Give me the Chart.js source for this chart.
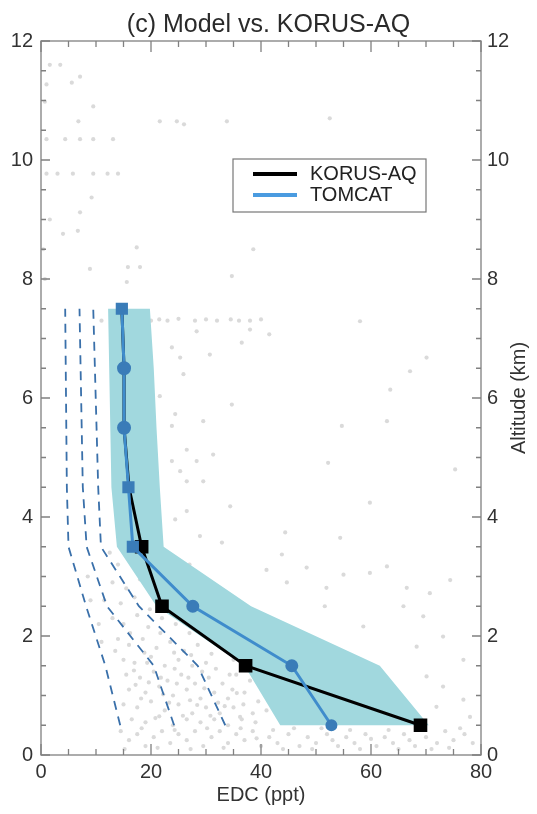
<!DOCTYPE html>
<html>
<head>
<meta charset="utf-8">
<script src="https://cdn.jsdelivr.net/npm/chart.js@4.4.1/dist/chart.umd.min.js"></script>
<style>
html, body { margin: 0; padding: 0; background: #fff; }
</style>
</head>
<body>
<canvas id="profile-chart" width="537" height="814"></canvas>
<script>
// altitude bins (km)
var altitudes = [0.5, 1.5, 2.5, 3.5, 4.5, 5.5, 6.5, 7.5];
// median EDC (ppt) per bin
var korusEdc = [69, 37.2, 22, 18.3, 16, 15.1, 15.1, 14.7];
var tomcatEdc = [52.8, 45.6, 27.6, 16.7, 15.9, 15.1, 15.1, 14.7];
// model spread (shaded area), low / high edge per bin
var bandLow = [43.5, 37, 21, 13.8, 12.8, 12.6, 12.4, 12.2];
var bandHigh = [70.5, 61.6, 38.2, 22.3, 21.6, 21, 20.5, 19.8];
// dashed model profiles
var dashA = [14.4, 11.7, 8.2, 5, 4.7, 4.6, 4.5, 4.4];
var dashB = [24.2, 20.5, 12, 8.3, 7.6, 7.4, 7.2, 7];
var dashC = [33.5, 28.5, 17.8, 10.9, 10.4, 10.1, 9.8, 9.5];
// individual observations [EDC, altitude]
var obsPoints = [
  [1.6,11.6],[3.5,11.6],[1,11.27],[5.6,11.3],[7.1,11.4],[0.7,10.98],[9.5,10.9],[6.8,10.65],
  [21.6,10.65],[24.7,10.65],[26,10.6],[33.8,10.65],[52.5,10.7],[1,10.35],[4.4,10.35],[7.1,10.35],
  [9.5,10.35],[13.1,10.35],[1,9.77],[3,9.77],[5.8,9.77],[9.5,9.77],[12.1,9.77],[14,9.77],
  [9.2,9.37],[7.1,9.12],[1.6,9],[6.7,8.81],[4,8.76],[17.4,8.53],[0.4,8.5],[38.6,8.5],
  [8.9,8.17],[15.8,8.2],[18,8.2],[0.7,8],[15.6,7.95],[34.7,8.05],
  [20,7.3],[21.5,7.32],[23,7.3],[25,7.33],[28,7.3],[30,7.32],[32,7.3],[34.5,7.32],
  [36,7.3],[38,7.3],[40,7.32],[11,7.3],[58,7.29],[28.3,7.12],[38,7.15],[41.5,7.07],
  [36.5,6.93],[23.8,6.85],[30.7,6.73],[25.3,6.68],[70.1,6.68],[67.1,6.45],[25.9,6.4],
  [63.5,6.14],[34.7,5.89],[21.6,6.03],[24.4,5.73],[29.5,5.61],[23.8,5.53],[54.7,5.53],
  [62.9,5.61],[26.5,5.13],[31.3,5.05],[52.2,4.91],[23.8,4.94],[28.3,4.94],[25.3,4.77],
  [75.3,4.8],[26.5,4.6],[29.5,4.6],[59.8,4.24],[34.4,4.18],[26.5,4.1],[24.4,3.96],
  [44.4,3.74],[28.9,3.68],[54.4,3.65],[32.9,3.57],[43.8,3.37],
  [41,3.11],[44.7,2.9],[48.3,3.15],[51.9,2.81],[55,3.03],[59.8,3.06],[62.9,3.17],
  [66.5,2.81],[70.7,2.72],[74.4,2.94],[51.6,2.5],[58.6,2.16],[65.9,2.5],[69.5,2.33],
  [73.1,1.99],[68.3,1.82],[76.8,1.6],[70.1,1.32],[73.1,1.15],[76.8,0.93],[71.9,0.81],
  [78,0.64],[35.6,1.04],[36.2,0.64],
  [12.5,3.4],[14,3.2],[16.5,3.3],[19,3.1],[21,3.3],[13,2.9],[15.5,2.8],[18,2.95],
  [20.5,2.75],[23,2.9],[25.5,3],[27,3.2],[11.5,2.6],[14.5,2.55],[17,2.65],[24,2.6],
  [26,2.45],[29,2.7],[31,2.85],[9,2.6],[10.5,2.2],[8.5,3],[11,1.9],
  [13,2.3],[15,2.2],[17.5,2.35],[19.5,2.15],[22,2.3],[24.5,2.2],[27,2.05],[29.5,2.25],
  [32,2.1],[14,1.95],[16,1.85],[18.5,1.95],[21,1.8],[23.5,1.9],[26,1.75],[28.5,1.85],
  [31,1.7],[33.5,1.9],[35,1.6],[15,1.6],[17,1.55],[20,1.65],[22.5,1.5],[25,1.6],
  [27.5,1.5],[30,1.55],[13.5,1.75],
  [15.5,1.35],[18,1.3],[20.5,1.4],[23,1.25],[25.5,1.35],[28,1.2],[30.5,1.3],[33,1.2],
  [35.5,1.35],[38,1.25],[16,1.1],[19,1.05],[21.5,1.15],[24,1],[26.5,1.1],[29,0.95],
  [31.5,1.05],[34,0.95],[37,1.05],[39.5,0.9],[15,0.85],[17.5,0.8],[20,0.9],[22.5,0.75],
  [25,0.85],[27.5,0.7],[30,0.8],[32.5,0.7],[35,0.8],[38.5,0.7],[41,0.75],[16.5,0.6],
  [19,0.55],[21.5,0.65],[24,0.5],[26.5,0.6],[29,0.55],[31.5,0.6],[34,0.5],[36.5,0.6],[39,0.55],
  [16.2,2.05],[19.8,2.45],[22.8,2.62],[18.8,1.72],[21.7,2.05],[24.2,1.72],[27.3,1.68],[30.6,1.95],
  [17.2,1.18],[19.6,1.22],[22.2,1.02],[24.7,1.2],[27.1,0.92],[29.7,1.12],[32.2,0.88],[34.8,1.1],
  [36.8,0.85],[18.2,0.95],[20.8,0.62],[23.3,0.88],[25.8,0.66],[28.4,0.84],[30.8,0.66],[33.4,0.82],
  [16.9,1.42],[19.3,1.55],[21.8,1.3],[24.3,1.45],[26.8,1.3],[29.3,1.4],[31.8,1.45],[34.3,1.35],
  [14.5,0.4],[16,0.25],[17.5,0.35],[19,0.15],[20.5,0.3],[22,0.4],[23.5,0.2],[25,0.35],
  [26.5,0.25],[28,0.4],[29.5,0.15],[31,0.3],[32.5,0.4],[34,0.2],[35.5,0.35],[37,0.25],
  [38.5,0.4],[40,0.15],[41.5,0.3],[43,0.2],[45,0.35],[47,0.15],[48.5,0.3],[50,0.2],
  [52,0.35],[54,0.15],[55.5,0.3],[57,0.2],[59,0.35],[61,0.15],[62.5,0.3],[64,0.2],
  [66,0.35],[68,0.15],[70,0.3],[72,0.2],[73.5,0.4],[75,0.25],[77,0.35],[78.5,0.2],
  [15.2,0.1],[18.3,0.45],[21.2,0.12],[24.3,0.42],[27.2,0.1],[30.2,0.45],[33.2,0.12],[36.3,0.45],
  [39.2,0.28],[42.2,0.42],[44,0.1],[46,0.45],[49.3,0.1],[51,0.45],[53,0.25],[56.2,0.42],
  [58,0.1],[60,0.27],[63.2,0.42],[65,0.1],[67,0.25],[69,0.44],[71,0.1],[74.2,0.12],[76.2,0.45]
];
var xTicks = [0, 20, 40, 60, 80];
var yTicks = [0, 2, 4, 6, 8, 10, 12];

function profile(values) {
  return values.map(function (v, i) { return {x: v, y: altitudes[i]}; });
}

// closed outline: high edge going down, low edge coming back up
var bandShape = profile(bandHigh).concat(profile(bandLow).reverse());

Chart.defaults.font.family = '"Liberation Sans", Arial, Helvetica, sans-serif';
Chart.defaults.color = '#333';

var frameAndLegend = {
  id: 'frameAndLegend',
  afterDraw: function (chart) {
    var ctx = chart.ctx, a = chart.chartArea;
    var xs = chart.scales.x, ys = chart.scales.y;
    ctx.save();
    ctx.strokeStyle = '#808080';
    ctx.lineWidth = 1.3;
    ctx.strokeRect(a.left, a.top, a.right - a.left, a.bottom - a.top);
    ctx.beginPath();
    for (var v = 0; v <= 80; v += 5) {
      var px = xs.getPixelForValue(v), len = v % 20 === 0 ? 11 : 6;
      ctx.moveTo(px, a.bottom); ctx.lineTo(px, a.bottom - len);
      ctx.moveTo(px, a.top); ctx.lineTo(px, a.top + len);
    }
    for (var h = 0; h <= 12; h += 0.5) {
      var py = ys.getPixelForValue(h), l2 = h % 2 === 0 ? 9 : 5;
      ctx.moveTo(a.left, py); ctx.lineTo(a.left + l2, py);
      ctx.moveTo(a.right, py); ctx.lineTo(a.right - l2, py);
    }
    ctx.stroke();

    // right axis title, reading upwards
    ctx.fillStyle = '#333';
    ctx.font = '20px "Liberation Sans", Arial, sans-serif';
    ctx.textAlign = 'center';
    ctx.textBaseline = 'middle';
    ctx.save();
    ctx.translate(519, (a.top + a.bottom) / 2);
    ctx.rotate(-Math.PI / 2);
    ctx.fillText('Altitude (km)', 0, 0);
    ctx.restore();

    // legend box
    var items = chart.data.datasets.filter(function (d) { return d.legendRank; });
    items.sort(function (p, q) { return p.legendRank - q.legendRank; });
    ctx.fillStyle = '#fff';
    ctx.fillRect(233, 159, 193, 53);
    ctx.strokeStyle = '#777';
    ctx.lineWidth = 1.2;
    ctx.strokeRect(233, 159, 193, 53);
    ctx.textAlign = 'left';
    items.forEach(function (d, i) {
      var y = 174 + i * 21;
      ctx.strokeStyle = d.legendColor;
      ctx.lineWidth = 4;
      ctx.beginPath();
      ctx.moveTo(253, y); ctx.lineTo(297, y);
      ctx.stroke();
      ctx.fillStyle = '#222';
      ctx.fillText(d.label, 310, y);
    });
    ctx.restore();
  }
};

function fixedTicks(list) {
  return function (scale) {
    scale.ticks = list.map(function (v) { return {value: v}; });
  };
}

new Chart(document.getElementById('profile-chart'), {
  type: 'scatter',
  data: {
    datasets: [
      {
        label: 'TOMCAT',
        legendRank: 2,
        legendColor: '#4a9be0',
        data: profile(tomcatEdc),
        showLine: true,
        borderColor: '#3f8ccc',
        borderWidth: 3,
        pointStyle: ['circle', 'circle', 'circle', 'rect', 'rect', 'circle', 'circle', 'rect'],
        pointRadius: [4.5, 5, 5, 6.5, 6.5, 5.5, 5.5, 6.5],
        pointBackgroundColor: '#3a7cb8',
        pointBorderColor: '#3a7cb8',
        order: 1
      },
      {
        label: 'KORUS-AQ',
        legendRank: 1,
        legendColor: '#000',
        data: profile(korusEdc),
        showLine: true,
        borderColor: '#000',
        borderWidth: 3,
        pointStyle: 'rect',
        pointRadius: [7.5, 7.5, 7.5, 7.5, 0, 0, 0, 0],
        pointBackgroundColor: '#000',
        pointBorderColor: '#000',
        order: 2
      },
      {
        label: 'dash1', data: profile(dashA), showLine: true, borderColor: '#3a70aa',
        borderWidth: 1.8, borderDash: [9, 7], pointRadius: 0, order: 3
      },
      {
        label: 'dash2', data: profile(dashB), showLine: true, borderColor: '#3a70aa',
        borderWidth: 1.8, borderDash: [9, 7], pointRadius: 0, order: 3
      },
      {
        label: 'dash3', data: profile(dashC), showLine: true, borderColor: '#3a70aa',
        borderWidth: 1.8, borderDash: [9, 7], pointRadius: 0, order: 3
      },
      {
        label: 'spread',
        data: bandShape,
        showLine: true,
        borderWidth: 0,
        borderColor: 'rgba(0,0,0,0)',
        backgroundColor: 'rgb(161,216,222)',
        fill: 'shape',
        pointRadius: 0,
        order: 4
      },
      {
        label: 'obs',
        data: obsPoints.map(function (p) { return {x: p[0], y: p[1]}; }),
        pointRadius: 2.1,
        pointBorderWidth: 0,
        pointBackgroundColor: '#dadada',
        order: 5
      }
    ]
  },
  options: {
    responsive: false,
    animation: false,
    layout: {padding: 0},
    plugins: {
      legend: {display: false},
      tooltip: {enabled: false},
      title: {
        display: true,
        text: '(c) Model vs. KORUS-AQ',
        font: {size: 25, weight: 'normal'},
        color: '#2a2a2a',
        padding: {top: 10, bottom: 1}
      }
    },
    scales: {
      x: {
        type: 'linear', position: 'bottom', min: 0, max: 80,
        afterBuildTicks: fixedTicks(xTicks),
        afterFit: function (s) { s.height = 59; },
        grid: {display: false, drawTicks: false},
        border: {display: false},
        ticks: {font: {size: 20}, color: '#333', padding: 5, maxRotation: 0},
        title: {display: true, text: 'EDC (ppt)', font: {size: 20}, color: '#333', padding: {top: 0, bottom: 7}}
      },
      y: {
        type: 'linear', position: 'left', min: 0, max: 12,
        afterBuildTicks: fixedTicks(yTicks),
        afterFit: function (s) { s.width = 41; },
        grid: {display: false, drawTicks: false},
        border: {display: false},
        ticks: {font: {size: 20}, color: '#333', padding: 8}
      },
      y2: {
        type: 'linear', position: 'right', min: 0, max: 12,
        afterBuildTicks: fixedTicks(yTicks),
        afterFit: function (s) { s.width = 56; },
        grid: {display: false, drawTicks: false},
        border: {display: false},
        ticks: {font: {size: 20}, color: '#333', padding: 6}
      }
    }
  },
  plugins: [frameAndLegend]
});
</script>
</body>
</html>
